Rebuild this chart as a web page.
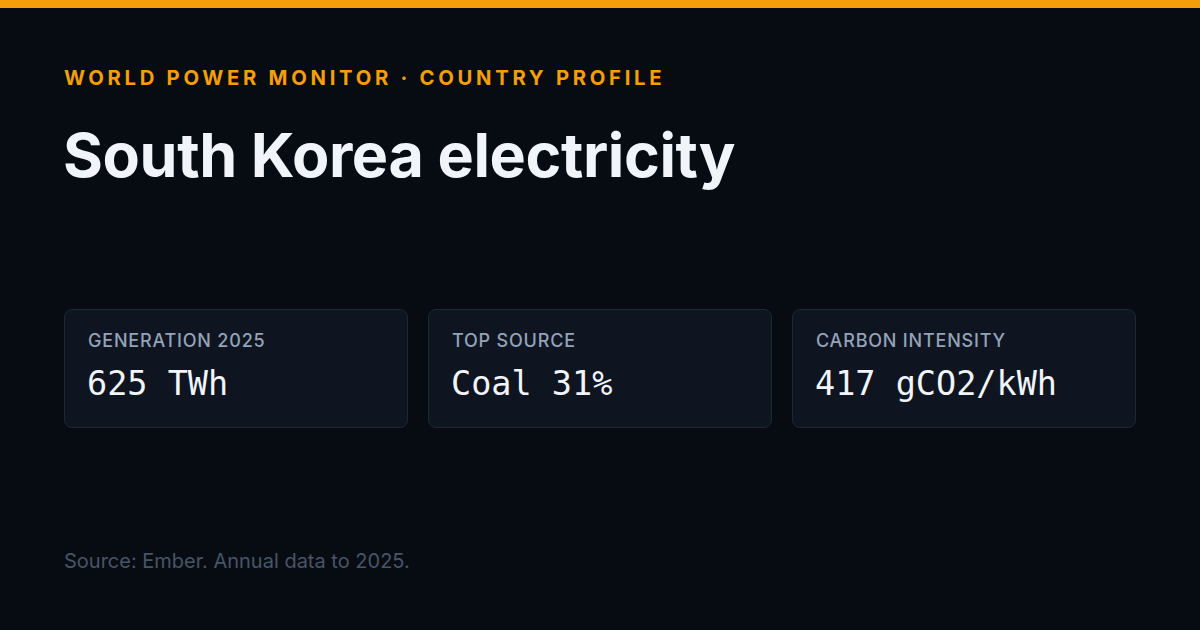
<!DOCTYPE html>
<html><head><meta charset="utf-8">
<script src="https://cdn.jsdelivr.net/npm/chart.js@4"></script>
<style>
html,body{margin:0;padding:0;width:1200px;height:630px;background:#070b12;overflow:hidden;font-family:Inter,"Noto Sans",sans-serif}
#bar{position:absolute;left:0;top:0;width:1200px;height:8px;background:#f59e0b}
#kicker{position:absolute;left:64px;top:65px;font-size:20.3px;font-weight:700;letter-spacing:3.7px;color:#f59e0b}
#title{position:absolute;left:63px;top:118px;font-size:61px;font-weight:700;color:#f1f5f9;letter-spacing:-0.4px}
.card{position:absolute;top:309px;width:344px;height:119px;background:#0e1420;border:1px solid #1f2735;border-radius:8px;box-sizing:border-box}
.lab{position:absolute;left:23px;top:20px;font-size:18px;font-weight:500;letter-spacing:0.8px;color:#94a3b8}
.val{position:absolute;left:22px;top:54px;font-size:33.5px;font-family:"DejaVu Sans Mono",monospace;color:#f1f5f9}
#src{position:absolute;left:64px;top:549px;font-size:20px;color:#475569}
</style></head><body>
<div id="bar"></div>
<div id="kicker"></div>
<div id="title"></div>
<div id="cards"></div>
<div id="src"></div>
<script>
const kicker = "WORLD POWER MONITOR · COUNTRY PROFILE";
const title = "South Korea electricity";
const cardLabels = ["GENERATION 2025","TOP SOURCE","CARBON INTENSITY"];
const cardValues = ["625 TWh","Coal 31%","417 gCO2/kWh"];
const source = "Source: Ember. Annual data to 2025.";
document.getElementById('kicker').textContent = kicker;
document.getElementById('title').textContent = title;
document.getElementById('src').textContent = source;
const lefts=[64,428,792];
const c=document.getElementById('cards');
cardLabels.forEach((l,i)=>{
  const d=document.createElement('div');d.className='card';d.style.left=lefts[i]+'px';
  const a=document.createElement('div');a.className='lab';a.textContent=l;
  const b=document.createElement('div');b.className='val';b.textContent=cardValues[i];
  d.appendChild(a);d.appendChild(b);c.appendChild(d);
});
</script>
</body></html>
